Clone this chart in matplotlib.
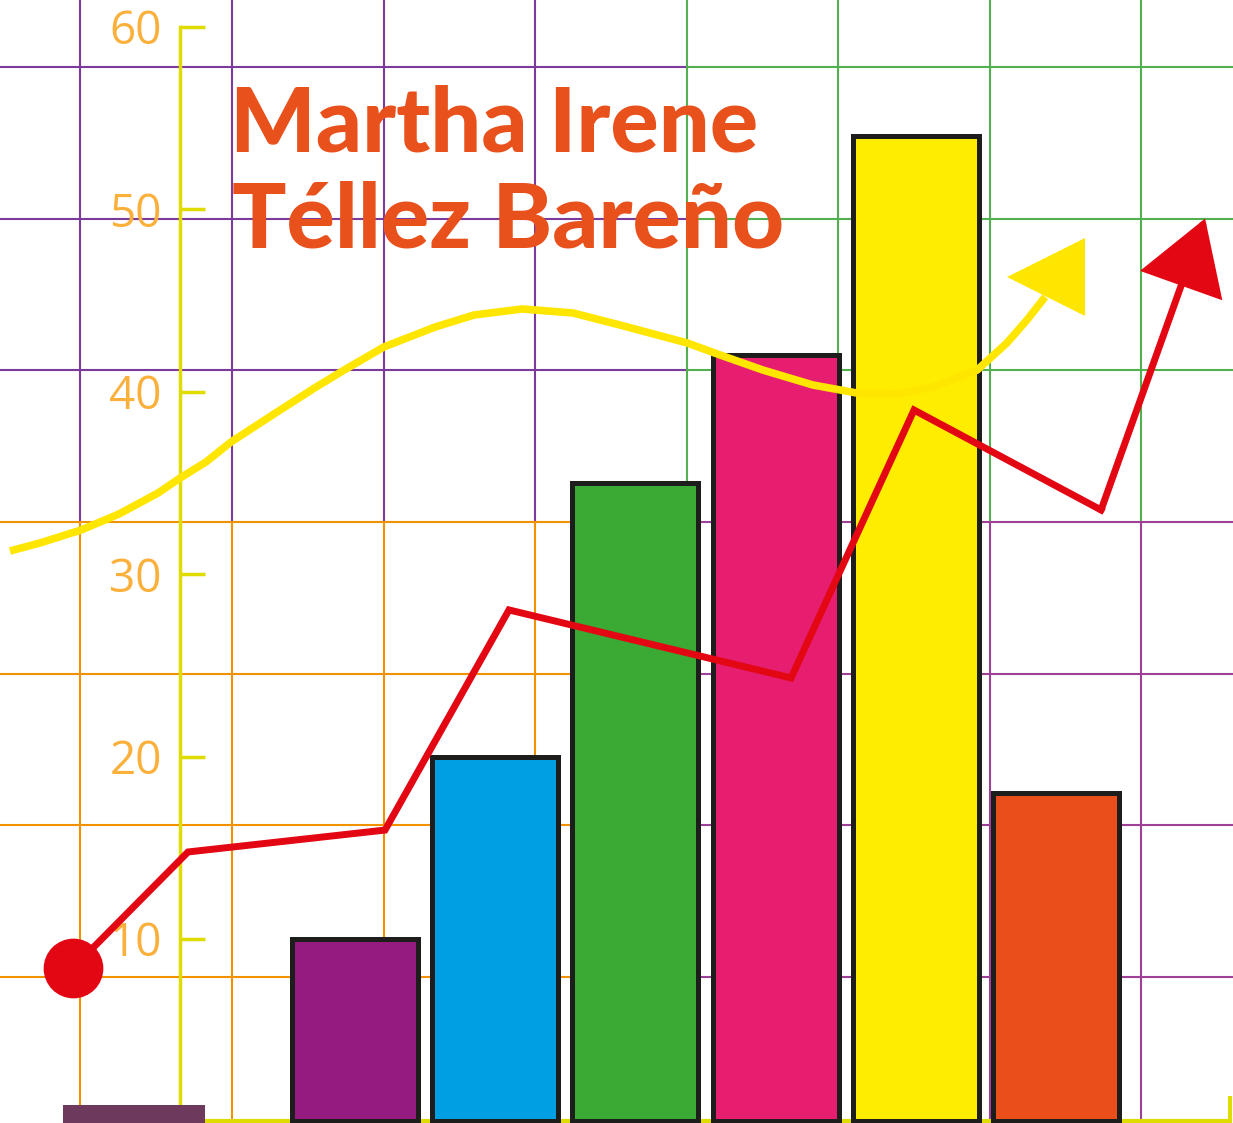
import matplotlib
matplotlib.use("Agg")
import matplotlib.pyplot as plt
import numpy as np

# ---------------- data ----------------
bar_pos = [0, 1, 2, 3, 4, 5]
bar_values = [10, 20, 35, 42, 54, 18]
bar_colors = ["#951b81", "#009fe3", "#3aaa35", "#e71d6f", "#ffed00", "#e94e1b"]

ytick_values = [10, 20, 30, 40, 50, 60]
ytick_labels = ["10", "20", "30", "40", "50", "60"]

# red trend line (x in bar-index units, y in value units); last point = arrow tip
red_x = [-2.011, -1.191, 0.214, 1.098, 3.110, 3.987, 5.321, 6.063]
red_y = [8.41, 14.77, 15.97, 28.04, 24.31, 39.0, 33.52, 49.5]

# yellow curve
yel_x = [-2.461, -2.247, -1.954, -1.683, -1.405, -1.248, -1.063, -0.884, -0.556,
         -0.278, -0.078, 0.207, 0.571, 0.849, 1.191, 1.555, 1.890, 2.368, 2.603,
         2.910, 3.267, 3.581, 3.866, 4.123, 4.437, 4.650, 4.793, 4.922]
yel_y = [31.27, 31.71, 32.42, 33.30, 34.45, 35.27, 36.15, 37.25, 38.89,
         40.26, 41.19, 42.46, 43.55, 44.21, 44.54, 44.32, 43.66, 42.68, 42.02,
         41.19, 40.37, 39.93, 39.88, 40.26, 41.19, 42.68, 43.94, 45.20]
yel_head = (4.925, 46.32)

# decorative grid (bar-index / value units)
grid_x = [-1.961, -0.877, 0.207, 1.284, 2.368, 3.445, 4.529, 5.606]
grid_y = [57.81, 49.47, 41.20, 32.86, 24.53, 16.25, 7.92]
split_x = 2.368
split_y = 32.86

title_lines = ["Martha Irene", "Téllez Bareño"]

# ---------------- style ----------------
C_UL = "#7a3b9c"
C_UR = "#52b04e"
C_LL = "#f39200"
C_LR = "#9e3f98"
AXIS_YEL = "#dedc00"
TICK_TXT = "#fbb03b"
RED = "#e30613"
YEL = "#ffe600"
EDGE = "#1d1d1b"

XL = (-2.532, 6.262)
YL = (-0.09, 61.48)

fig = plt.figure(figsize=(12.33, 11.23), dpi=100)
ax = fig.add_axes([0, 0, 1, 1])
ax.set_xlim(*XL)
ax.set_ylim(*YL)
ax.set_facecolor("white")

glw = 1.5
for gx in grid_x:
    up = C_UR if gx >= split_x - 1e-6 else C_UL
    lo = C_LR if gx > split_x + 1e-6 else C_LL
    ax.plot([gx, gx], [split_y, YL[1]], color=up, lw=glw, zorder=1)
    ax.plot([gx, gx], [YL[0], split_y], color=lo, lw=glw, zorder=1)
for gy in grid_y:
    if gy > split_y + 1e-6:
        l, r = C_UL, C_UR
    else:
        l, r = C_LL, C_LR
    ax.plot([XL[0], split_x], [gy, gy], color=l, lw=glw, zorder=1)
    ax.plot([split_x, XL[1]], [gy, gy], color=r, lw=glw, zorder=1)

# spines as axes
for s in ["top", "right"]:
    ax.spines[s].set_visible(False)
ax.spines["left"].set_position(("data", -1.248))
ax.spines["left"].set_bounds(0, 60)
ax.spines["left"].set_color(AXIS_YEL)
ax.spines["left"].set_linewidth(2.5)
ax.spines["left"].set_zorder(2)
ax.spines["bottom"].set_position(("data", 0))
ax.spines["bottom"].set_bounds(-1.07, 6.241)
ax.spines["bottom"].set_color(AXIS_YEL)
ax.spines["bottom"].set_linewidth(3)
ax.spines["bottom"].set_zorder(2)

ax.set_yticks(ytick_values)
ax.set_yticklabels(ytick_labels, fontfamily="Open Sans")
ax.tick_params(axis="y", direction="in", length=18, width=2.5, color=AXIS_YEL,
               pad=13, labelsize=33, labelcolor=TICK_TXT)
ax.set_xticks([6.241])
ax.set_xticklabels([""])
ax.tick_params(axis="x", direction="in", length=18, width=3, color=AXIS_YEL)

# purple base block at lower left
ax.bar([-1.577], [1.0], bottom=-0.1, width=1.013, color="#6d3a5d", zorder=3)

# bars
ax.bar(bar_pos, bar_values, width=0.899, color=bar_colors, edgecolor=EDGE,
       linewidth=3.6, zorder=3)

# yellow curve + head
ax.plot(yel_x, yel_y, color=YEL, lw=5.5, solid_capstyle="butt",
        solid_joinstyle="round", zorder=4)
ax.plot([yel_head[0]], [yel_head[1]], marker="<", ms=56, color=YEL,
        markeredgewidth=0, zorder=4)

# red line
ax.plot(red_x[:-1], red_y[:-1], color=RED, lw=5, solid_joinstyle="miter",
        zorder=5)
ax.annotate("", xy=(red_x[-1], red_y[-1]), xytext=(red_x[-2], red_y[-2]),
            arrowprops=dict(arrowstyle="-|>,head_length=2.2,head_width=1.35",
                            color=RED, lw=5, shrinkA=0, shrinkB=0,
                            mutation_scale=20, joinstyle="miter"),
            zorder=5)
ax.plot([red_x[0]], [red_y[0]], "o", ms=43, color=RED, markeredgewidth=0,
        zorder=6)

# title
fig.text(230 / 1233, 1 - 152 / 1123, title_lines[0], fontsize=65,
         fontfamily="Lato", fontweight="black", color="#e9511c",
         va="baseline", ha="left", zorder=7)
fig.text(232 / 1233, 1 - 248 / 1123, title_lines[1], fontsize=65,
         fontfamily="Lato", fontweight="black", color="#e9511c",
         va="baseline", ha="left", zorder=7)

fig.savefig("out.png", dpi=100)
